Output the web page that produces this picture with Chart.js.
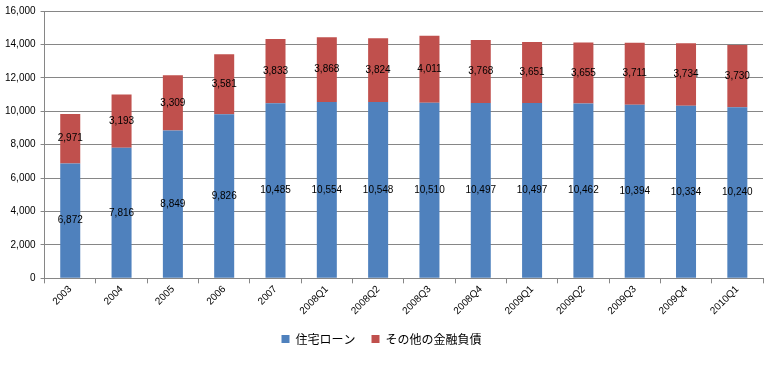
<!DOCTYPE html>
<html>
<head>
<meta charset="utf-8">
<script src="https://cdn.jsdelivr.net/npm/chart.js@4/dist/chart.umd.min.js"></script>
<style>
html,body{margin:0;padding:0;background:#fff;}
#wrap{width:767px;height:383px;position:relative;}
</style>
</head>
<body>
<div id="wrap"><canvas id="c" width="767" height="383"></canvas></div>
<script>
const categories = ['2003','2004','2005','2006','2007','2008Q1','2008Q2','2008Q3','2008Q4','2009Q1','2009Q2','2009Q3','2009Q4','2010Q1'];
const housingLoan = [6872, 7816, 8849, 9826, 10485, 10554, 10548, 10510, 10497, 10497, 10462, 10394, 10334, 10240];
const otherDebt = [2971, 3193, 3309, 3581, 3833, 3868, 3824, 4011, 3768, 3651, 3655, 3711, 3734, 3730];
const seriesNames = ['住宅ローン', 'その他の金融負債'];
const yTicks = [0, 2000, 4000, 6000, 8000, 10000, 12000, 14000, 16000];

const numFont = '"Liberation Sans", Arial, sans-serif';
const jpFont = '"Noto Sans CJK JP", sans-serif';

const labelPlugin = {
  id: 'segLabels',
  afterDatasetsDraw(chart) {
    const ctx = chart.ctx;
    ctx.save();
    ctx.font = '10px ' + numFont;
    ctx.fillStyle = '#000';
    ctx.textAlign = 'center';
    ctx.textBaseline = 'middle';
    chart.data.datasets.forEach((ds, i) => {
      const meta = chart.getDatasetMeta(i);
      meta.data.forEach((el, j) => {
        const v = ds.data[j];
        const y = (el.y + el.base) / 2;
        ctx.fillText(v.toLocaleString('en-US'), el.x, y);
      });
    });
    ctx.restore();
  }
};

new Chart(document.getElementById('c'), {
  type: 'bar',
  data: {
    labels: categories,
    datasets: [
      {label: seriesNames[0], data: housingLoan, backgroundColor: '#4F81BD', categoryPercentage: 1, barPercentage: 0.39},
      {label: seriesNames[1], data: otherDebt, backgroundColor: '#C0504D', categoryPercentage: 1, barPercentage: 0.39}
    ]
  },
  options: {
    responsive: false,
    animation: false,
    layout: {padding: {top: 4, right: 4, left: 0, bottom: 28}},
    plugins: {
      tooltip: {enabled: false},
      legend: {
        position: 'bottom',
        labels: {
          boxWidth: 8, boxHeight: 8, padding: 16,
          color: '#000',
          font: {family: jpFont, size: 12}
        }
      }
    },
    scales: {
      x: {
        stacked: true,
        offset: true,
        grid: {offset: true, drawOnChartArea: false, drawTicks: true, tickLength: 5, color: '#868686'},
        border: {color: '#868686'},
        ticks: {
          minRotation: 45, maxRotation: 45, autoSkip: false,
          color: '#000', font: {family: numFont, size: 10}, padding: 0
        }
      },
      y: {
        stacked: true,
        min: 0, max: 16000,
        afterBuildTicks(axis) { axis.ticks = yTicks.map(v => ({value: v})); },
        grid: {color: '#868686', tickLength: 4},
        border: {color: '#868686'},
        ticks: {
          color: '#000', font: {family: numFont, size: 10}, padding: 5,
          callback: v => v.toLocaleString('en-US')
        }
      }
    }
  },
  plugins: [labelPlugin]
});
</script>
</body>
</html>
